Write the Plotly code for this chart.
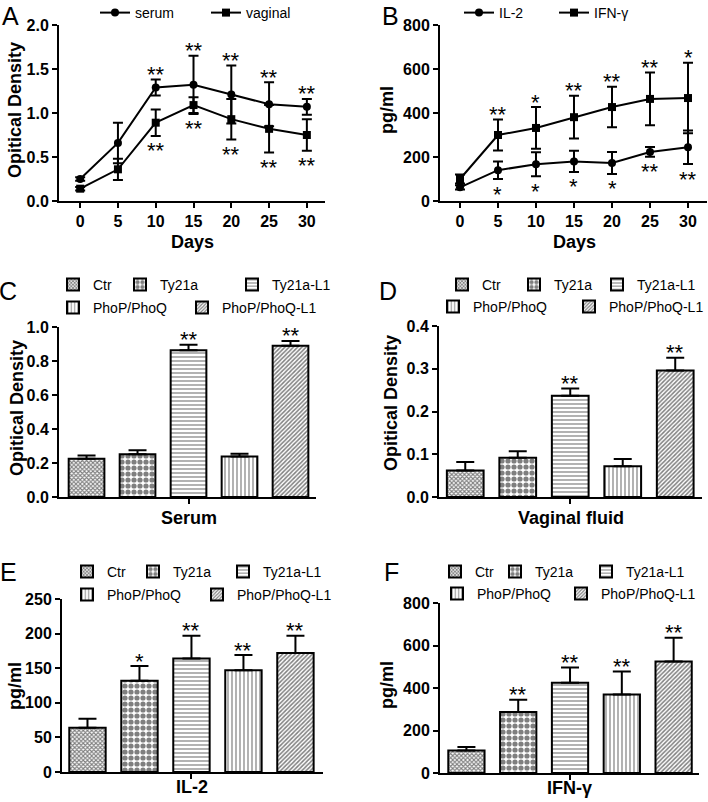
import plotly.graph_objects as go

W, H = 708, 802
FONT = "Liberation Sans, Arial, sans-serif"

# ---------------- data ----------------
days = [0, 5, 10, 15, 20, 25, 30]
serum_od = [0.25, 0.66, 1.29, 1.32, 1.21, 1.10, 1.07]
serum_err = [0.02, 0.23, 0.09, 0.33, 0.33, 0.25, 0.09]
serum_sig = ["", "", "**", "**", "**", "**", "**"]
vaginal_od = [0.14, 0.36, 0.89, 1.09, 0.93, 0.82, 0.75]
vaginal_err = [0.02, 0.12, 0.15, 0.09, 0.23, 0.27, 0.18]
vaginal_sig = ["", "", "**", "**", "**", "**", "**"]

il2_t = [62, 140, 167, 180, 173, 223, 244]
il2_t_err = [10, 40, 55, 48, 50, 22, 76]
il2_t_sig = ["", "*", "*", "*", "*", "**", "**"]
ifn_t = [100, 300, 332, 381, 427, 464, 468]
ifn_t_err = [20, 70, 95, 97, 92, 120, 160]
ifn_t_sig = ["", "**", "*", "**", "**", "**", "*"]

groups = ["Ctr", "Ty21a", "Ty21a-L1", "PhoP/PhoQ", "PhoP/PhoQ-L1"]
serum_vals = [0.225, 0.252, 0.863, 0.238, 0.890]
serum_errs = [0.019, 0.023, 0.033, 0.016, 0.028]
serum_sigs = ["", "", "**", "", "**"]
vag_vals = [0.062, 0.092, 0.237, 0.072, 0.296]
vag_errs = [0.020, 0.015, 0.017, 0.017, 0.030]
vag_sigs = ["", "", "**", "", "**"]
il2_vals = [64, 132, 164, 147, 172]
il2_errs = [13, 21, 33, 22, 25]
il2_sigs = ["", "*", "**", "**", "**"]
ifn_vals = [106, 287, 425, 369, 525]
ifn_errs = [16, 58, 71, 109, 112]
ifn_sigs = ["", "**", "**", "**", "**"]

patterns = [
    dict(shape="x", size=3, solidity=0.6),
    dict(shape=".", size=6, solidity=0.6),
    dict(shape="-", size=4, solidity=0.3),
    dict(shape="|", size=4, solidity=0.3),
    dict(shape="/", size=3, solidity=0.5),
]


def px(x):
    return x / W


def py(y):
    return 1 - y / H


fig = go.Figure()
annotations = []
legends = {}
leg_count = [0]


def new_legend(text_x, y, size=14):
    leg_count[0] += 1
    name = "legend" if leg_count[0] == 1 else f"legend{leg_count[0]}"
    legends[name] = dict(
        x=px(text_x - 40), y=py(y), xanchor="left", yanchor="middle",
        bgcolor="rgba(0,0,0,0)", borderwidth=0,
        font=dict(family=FONT, size=size, color="black"),
        itemclick=False, itemdoubleclick=False,
    )
    return name


def star(xref, yref, x, y, text, above=True):
    if not text:
        return
    annotations.append(dict(
        xref=xref, yref=yref, x=x, y=y, text=text, showarrow=False,
        yanchor="middle", xanchor="center",
        yshift=5 if above else -15,
        font=dict(family=FONT, size=22, color="black"),
    ))


# ---------------- panel A ----------------
line_specs_A = [
    ("serum", serum_od, serum_err, serum_sig, "circle", 135, True),
    ("vaginal", vaginal_od, vaginal_err, vaginal_sig, "square", 246, False),
]
for name, vals, errs, sigs, sym, tx, above in line_specs_A:
    fig.add_trace(go.Scatter(
        x=days, y=vals, name=name, mode="lines+markers",
        line=dict(color="black", width=2),
        marker=dict(symbol=sym, size=8, color="black"),
        error_y=dict(type="data", array=errs, thickness=2, width=5, color="black"),
        xaxis="x", yaxis="y", legend=new_legend(tx, 13, 14),
    ))
    for d, v, e, s in zip(days, vals, errs, sigs):
        star("x", "y", d, v + e if above else v - e, s, above)

# ---------------- panel B ----------------
line_specs_B = [
    ("IL-2", il2_t, il2_t_err, il2_t_sig, "circle", 499, False),
    ("IFN-γ", ifn_t, ifn_t_err, ifn_t_sig, "square", 594, True),
]
for name, vals, errs, sigs, sym, tx, above in line_specs_B:
    fig.add_trace(go.Scatter(
        x=days, y=vals, name=name, mode="lines+markers",
        line=dict(color="black", width=2),
        marker=dict(symbol=sym, size=8, color="black"),
        error_y=dict(type="data", array=errs, thickness=2, width=5, color="black"),
        xaxis="x2", yaxis="y2", legend=new_legend(tx, 13, 14),
    ))
    for d, v, e, s in zip(days, vals, errs, sigs):
        star("x2", "y2", d, v + e if above else v - e, s, above)

# ---------------- bar panels ----------------
bar_panels = [
    ("x3", "y3", serum_vals, serum_errs, serum_sigs,
     [93, 160, 272, 93, 222], [285, 285, 285, 308, 308]),
    ("x4", "y4", vag_vals, vag_errs, vag_sigs,
     [482, 554, 637, 473, 609], [285, 285, 285, 307, 307]),
    ("x5", "y5", il2_vals, il2_errs, il2_sigs,
     [107, 173, 263, 107, 237], [572, 572, 572, 595, 595]),
    ("x6", "y6", ifn_vals, ifn_errs, ifn_sigs,
     [475, 535, 626, 477, 601], [572, 572, 572, 594, 594]),
]
for xa, ya, vals, errs, sigs, lx, ly in bar_panels:
    for i, g in enumerate(groups):
        fig.add_trace(go.Bar(
            x=[i], y=[vals[i]], name=g, width=0.7,
            marker=dict(color="white", line=dict(color="black", width=2),
                        pattern=dict(fgcolor="black", bgcolor="white", **patterns[i])),
            error_y=dict(type="data", symmetric=False, array=[errs[i]], arrayminus=[0],
                         thickness=2, width=9, color="black"),
            xaxis=xa, yaxis=ya, legend=new_legend(lx[i], ly[i], 14),
        ))
        star(xa, ya, i, vals[i] + errs[i], sigs[i], True)

# ---------------- axes ----------------
tickfont = dict(family=FONT, size=16, color="black", weight="bold")


def xax(dom, rng, anchor, line_chart):
    d = dict(domain=[px(dom[0]), px(dom[1])], range=rng, anchor=anchor,
             showline=True, linecolor="black", linewidth=2, showgrid=False,
             zeroline=False, ticks="outside", ticklen=5, tickwidth=2,
             tickcolor="black", tickfont=tickfont, fixedrange=True)
    if line_chart:
        d.update(tickvals=days)
    else:
        d.update(tickvals=[2], ticktext=[""])
    return d


def yax(dom, rng, anchor, dtick, fmt):
    return dict(domain=[py(dom[1]), py(dom[0])], range=rng, anchor=anchor,
                showline=True, linecolor="black", linewidth=2, showgrid=False,
                zeroline=False, ticks="outside", ticklen=5, tickwidth=2,
                tickcolor="black", tickfont=tickfont, dtick=dtick, tick0=0,
                tickformat=fmt, fixedrange=True)


layout_axes = dict(
    xaxis=xax((59, 325), [-2.8, 32.4], "y", True),
    yaxis=yax((25, 201), [0, 2], "x", 0.5, ".1f"),
    xaxis2=xax((440, 707), [-2.63, 32.5], "y2", True),
    yaxis2=yax((25, 201), [0, 800], "x2", 200, "d"),
    xaxis3=xax((59, 316), [-0.54, 4.5], "y3", False),
    yaxis3=yax((327, 497), [0, 1], "x3", 0.2, ".1f"),
    xaxis4=xax((439, 702), [-0.5, 4.51], "y4", False),
    yaxis4=yax((326, 497), [0, 0.4], "x4", 0.1, ".1f"),
    xaxis5=xax((62, 323), [-0.49, 4.53], "y5", False),
    yaxis5=yax((599, 772), [0, 250], "x5", 50, "d"),
    xaxis6=xax((440, 699), [-0.51, 4.49], "y6", False),
    yaxis6=yax((603, 773), [0, 800], "x6", 200, "d"),
)

# ---------------- titles / letters ----------------
titles = [
    ("Opitical Density", 15, 110, -90),
    ("Days", 192, 242, 0),
    ("pg/ml", 387, 110, -90),
    ("Days", 574, 242, 0),
    ("Opitical Density", 17, 408, -90),
    ("Serum", 189, 518, 0),
    ("Opitical Density", 391, 403, -90),
    ("Vaginal fluid", 571, 518, 0),
    ("pg/ml", 15, 686, -90),
    ("IL-2", 192, 787, 0),
    ("pg/ml", 387, 685, -90),
    ("IFN-γ", 569, 788, 0),
]
for t, x, y, ang in titles:
    annotations.append(dict(
        xref="paper", yref="paper", x=px(x), y=py(y), text=t, showarrow=False,
        xanchor="center", yanchor="middle", textangle=ang,
        font=dict(family=FONT, size=18, color="black", weight="bold"),
    ))

# panel letters: (text, x centre px, top px)
letters = [("A", 10, 0), ("B", 390, 0), ("C", 8, 275),
           ("D", 388, 275), ("E", 8, 556), ("F", 391, 556)]
for t, x, y in letters:
    annotations.append(dict(
        xref="paper", yref="paper", x=px(x), y=py(y), text=t, showarrow=False,
        xanchor="center", yanchor="top",
        font=dict(family=FONT, size=25, color="black"),
    ))

fig.update_layout(
    width=W, height=H, margin=dict(l=0, r=0, t=0, b=0, autoexpand=False),
    paper_bgcolor="white", plot_bgcolor="white",
    barmode="overlay", showlegend=True,
    annotations=annotations,
    **layout_axes, **legends,
)

fig.write_html("out.html", config={"displayModeBar": False},
               post_script="document.body.style.margin='0';")
